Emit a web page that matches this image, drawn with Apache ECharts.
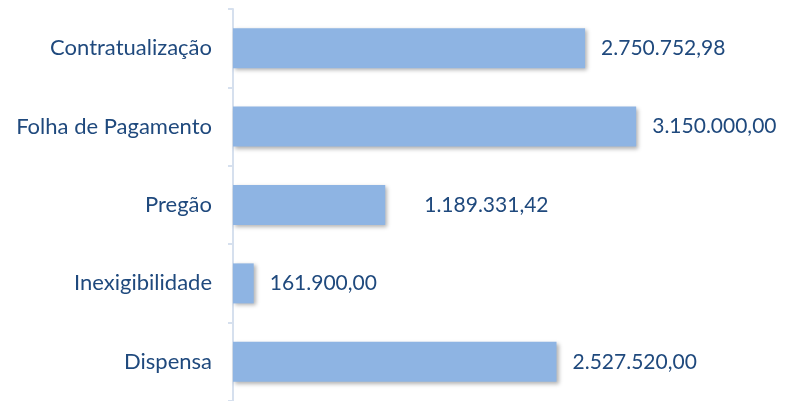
<!DOCTYPE html>
<html>
<head>
<meta charset="utf-8">
<script src="https://cdn.jsdelivr.net/npm/echarts@6/dist/echarts.min.js"></script>
<style>
  html, body { margin: 0; padding: 0; background: #fff; }
  #chart { width: 785px; height: 401px; }
</style>
</head>
<body>
<div id="chart"></div>
<script>
  // categorias de cima para baixo
  var categories = ['Contratualização', 'Folha de Pagamento', 'Pregão', 'Inexigibilidade', 'Dispensa']
  var values = [2750752.98, 3150000.00, 1189331.42, 161900.00, 2527520.00]
  // distância do rótulo até o fim da barra (Pregão fica mais afastado)
  var labelGaps = [16, 16, 39, 16, 16]

  var textColor = '#1F497D'
  var fontFamily = 'Lato'

  // formato brasileiro: 1.234.567,89
  function fmtBR(v) {
    var parts = v.toFixed(2).split('.')
    parts[0] = parts[0].replace(/\B(?=(\d{3})+(?!\d))/g, '.')
    return parts[0] + ',' + parts[1]
  }

  var seriesData = []
  for (var i = 0; i < values.length; i++) {
    seriesData.push({
      value: values[i],
      label: { distance: labelGaps[i] }
    })
  }

  var chart = echarts.init(document.getElementById('chart'))
  chart.setOption({
    animation: false,
    grid: { left: 233, top: 9, width: 448, height: 397 },
    xAxis: {
      type: 'value',
      min: 0,
      max: 3500000,
      show: false
    },
    yAxis: {
      type: 'category',
      inverse: true,
      data: categories,
      axisLine: { show: true, lineStyle: { color: '#D6E0EE', width: 2 } },
      axisTick: { show: true, length: 5, lineStyle: { color: '#D6E0EE', width: 2 } },
      axisLabel: {
        margin: 21,
        color: textColor,
        fontFamily: fontFamily,
        fontSize: 22
      }
    },
    series: [
      {
        type: 'bar',
        barWidth: 40,
        data: seriesData,
        itemStyle: {
          color: '#8EB4E3',
          shadowColor: 'rgba(0,0,0,0.3)',
          shadowBlur: 4,
          shadowOffsetX: 2,
          shadowOffsetY: 2
        },
        label: {
          show: true,
          position: 'right',
          color: textColor,
          fontFamily: fontFamily,
          fontSize: 21,
          formatter: function (p) { return fmtBR(p.value) }
        }
      }
    ]
  })
</script>
</body>
</html>
